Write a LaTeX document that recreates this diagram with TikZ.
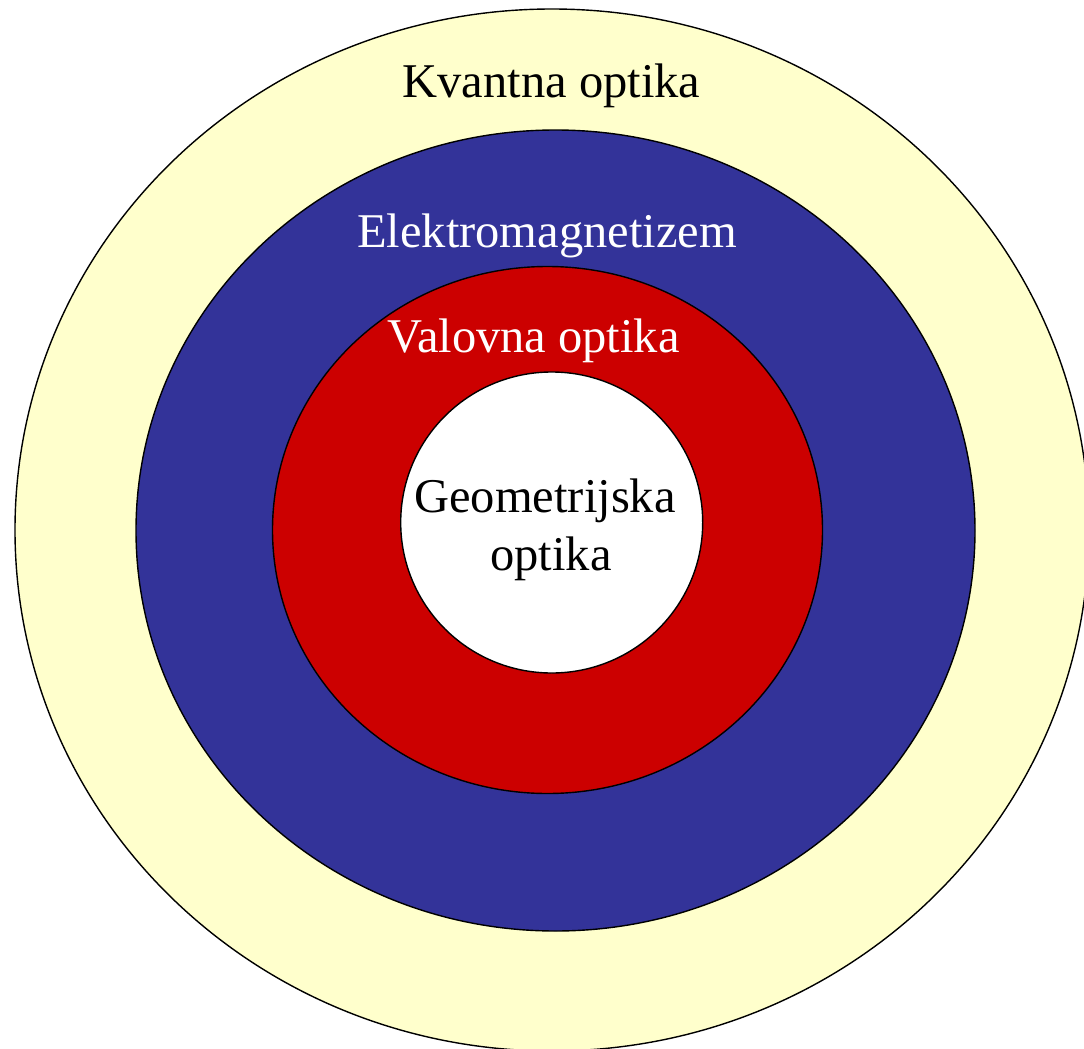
\documentclass[tikz,border=0pt]{standalone}
\usepackage{fontspec}
\setmainfont{Liberation Serif}
\definecolor{qyellow}{HTML}{FFFFCC}
\definecolor{emblue}{HTML}{333399}
\definecolor{wavered}{HTML}{CC0000}
\begin{document}
\begin{tikzpicture}[x=1pt,y=-1pt,
  ring/.style={draw=black,line width=1.4pt},
  lbl/.style={anchor=base,inner sep=0pt,font=\fontsize{48.5}{58}\selectfont}]
\clip (0,0) rectangle (1084,1049);
\fill[white] (0,0) rectangle (1084,1049);
\draw[ring,fill=qyellow] (552,530) ellipse [x radius=537, y radius=521];
\draw[ring,fill=emblue] (555.5,530.5) ellipse [x radius=419.5, y radius=400.5];
\draw[ring,fill=wavered] (547.5,530) ellipse [x radius=275, y radius=263.5];
\draw[ring,fill=white] (551.7,522.5) ellipse [x radius=151, y radius=150.5];
\node[lbl,text=black] (kv) at (551.5,97) {Kvantna optika};
\node[lbl,text=white] (em) at (547,247) {Elektromagnetizem};
\node[lbl,text=white] (wo) at (533.5,352) {Valovna optika};
\node[lbl,text=black] (geo1) at (545,512) {Geometrijska};
\node[lbl,text=black] (geo2) at (551,570) {optika};
\end{tikzpicture}
\end{document}
